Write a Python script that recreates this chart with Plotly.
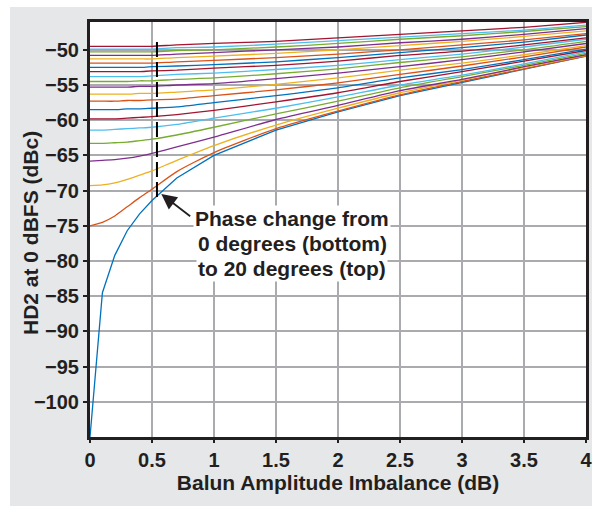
import plotly.graph_objects as go

# Balun amplitude imbalance (dB)
x_imbalance = [0, 0.1, 0.2, 0.3, 0.4, 0.5, 0.7, 1.0, 1.5, 2.0, 2.5, 3.0, 3.5, 4.0]

# HD2 at 0 dBFS (dBc), one series per phase imbalance (degrees)
phase_00 = [-105.0, -84.5, -79.2, -75.7, -73.3, -71.4, -68.2, -65.0, -61.4, -58.8, -56.5, -54.6, -52.7, -50.9]
phase_01 = [-75.0, -74.5, -73.6, -72.3, -71.0, -69.8, -67.3, -64.6, -61.2, -58.7, -56.4, -54.5, -52.7, -50.9]
phase_02 = [-69.3, -69.2, -68.9, -68.4, -67.8, -67.2, -65.7, -63.6, -60.7, -58.3, -56.1, -54.3, -52.5, -50.8]
phase_03 = [-65.8, -65.7, -65.6, -65.4, -65.1, -64.7, -63.8, -62.4, -59.9, -57.9, -55.8, -54.2, -52.4, -50.7]
phase_04 = [-63.3, -63.3, -63.2, -63.1, -62.9, -62.7, -62.1, -61.0, -59.1, -57.3, -55.4, -53.8, -52.2, -50.5]
phase_05 = [-61.4, -61.4, -61.3, -61.2, -61.1, -61.0, -60.6, -59.7, -58.3, -56.7, -55.0, -53.6, -52.0, -50.3]
phase_06 = [-59.8, -59.8, -59.8, -59.7, -59.6, -59.5, -59.2, -58.6, -57.4, -56.1, -54.5, -53.1, -51.6, -50.1]
phase_07 = [-58.5, -58.5, -58.5, -58.4, -58.4, -58.3, -58.1, -57.5, -56.5, -55.4, -54.0, -52.8, -51.4, -49.9]
phase_08 = [-57.3, -57.3, -57.3, -57.2, -57.2, -57.1, -57.0, -56.5, -55.7, -54.7, -53.5, -52.3, -51.0, -49.6]
phase_09 = [-56.3, -56.3, -56.3, -56.3, -56.2, -56.2, -56.0, -55.7, -54.9, -54.0, -52.9, -51.9, -50.7, -49.4]
phase_10 = [-55.3, -55.3, -55.3, -55.3, -55.2, -55.2, -55.0, -54.8, -54.1, -53.3, -52.4, -51.4, -50.3, -49.1]
phase_11 = [-54.5, -54.5, -54.5, -54.5, -54.4, -54.4, -54.2, -54.0, -53.4, -52.7, -51.8, -51.0, -50.0, -48.8]
phase_12 = [-53.8, -53.8, -53.8, -53.8, -53.8, -53.7, -53.5, -53.3, -52.8, -52.2, -51.4, -50.6, -49.6, -48.5]
phase_13 = [-53.1, -53.1, -53.1, -53.1, -53.1, -53.0, -52.9, -52.6, -52.2, -51.6, -50.8, -50.2, -49.3, -48.3]
phase_14 = [-52.5, -52.5, -52.5, -52.5, -52.5, -52.4, -52.3, -52.1, -51.7, -51.1, -50.4, -49.7, -48.9, -47.9]
phase_15 = [-51.9, -51.9, -51.9, -51.9, -51.9, -51.9, -51.7, -51.5, -51.1, -50.6, -50.0, -49.3, -48.6, -47.7]
phase_16 = [-51.3, -51.3, -51.3, -51.3, -51.3, -51.3, -51.1, -50.9, -50.5, -50.0, -49.4, -48.8, -48.1, -47.3]
phase_17 = [-50.8, -50.8, -50.8, -50.8, -50.8, -50.8, -50.6, -50.4, -50.0, -49.6, -49.0, -48.5, -47.8, -47.0]
phase_18 = [-50.3, -50.3, -50.3, -50.3, -50.3, -50.3, -50.1, -50.0, -49.6, -49.1, -48.5, -48.0, -47.4, -46.7]
phase_19 = [-49.9, -49.9, -49.9, -49.9, -49.9, -49.9, -49.7, -49.6, -49.2, -48.7, -48.2, -47.7, -47.2, -46.5]
phase_20 = [-49.5, -49.5, -49.5, -49.5, -49.5, -49.5, -49.3, -49.1, -48.8, -48.3, -47.8, -47.3, -46.8, -46.1]

series = [phase_00, phase_01, phase_02, phase_03, phase_04, phase_05, phase_06,
          phase_07, phase_08, phase_09, phase_10, phase_11, phase_12, phase_13,
          phase_14, phase_15, phase_16, phase_17, phase_18, phase_19, phase_20]

palette = ["#0072BD", "#D95319", "#EDB120", "#7E2F8E", "#77AC30", "#4DBEEE", "#A2142F"]

x_ticks = [0, 0.5, 1, 1.5, 2, 2.5, 3, 3.5, 4]
x_ticktext = ["0", "0.5", "1", "1.5", "2", "2.5", "3", "3.5", "4"]
y_ticks = [-100, -95, -90, -85, -80, -75, -70, -65, -60, -55, -50]
y_ticktext = ["\u2212100", "\u221295", "\u221290", "\u221285", "\u221280", "\u221275",
              "\u221270", "\u221265", "\u221260", "\u221255", "\u221250"]

marker_x = [0.54, 0.54]
marker_y = [-48.9, -71.6]

FONT = "Liberation Sans, Arial, sans-serif"
DARK = "#231f20"

fig = go.Figure()
for i, ys in enumerate(series):
    fig.add_trace(go.Scatter(
        x=x_imbalance, y=ys, mode="lines",
        line=dict(color=palette[i % 7], width=1.3,
                  shape="linear" if i == 0 else "spline", smoothing=0.6),
        showlegend=False, hoverinfo="skip"))

fig.add_trace(go.Scatter(x=marker_x, y=marker_y, mode="lines",
                         line=dict(color="black", width=2, dash="15px,5px"),
                         showlegend=False, hoverinfo="skip"))

W, H = 592, 506
L, R, T, B = 90, 6, 22, 69
pw, ph = W - L - R, H - T - B

fig.update_layout(
    width=W, height=H,
    margin=dict(l=L, r=R, t=T, b=B, autoexpand=False),
    paper_bgcolor="#e6e7e8",
    plot_bgcolor="white",
    font=dict(family=FONT, color=DARK, size=20, weight="bold"),
    xaxis=dict(range=[0, 4], tickvals=x_ticks, ticktext=x_ticktext,
               showgrid=True, gridcolor="#a9abae", gridwidth=1.5,
               showline=True, linecolor=DARK, linewidth=3, mirror=True,
               ticks="outside", ticklen=3, tickwidth=2, tickcolor=DARK,
               ticklabeloverflow="allow",
               tickfont=dict(size=20, family=FONT, color=DARK, weight="bold"),
               zeroline=False,
               title=dict(text="Balun Amplitude Imbalance (dB)",
                          font=dict(size=21, family=FONT, color=DARK, weight="bold"),
                          standoff=6)),
    yaxis=dict(range=[-105, -46.05], tickvals=y_ticks, ticktext=y_ticktext,
               showgrid=True, gridcolor="#a9abae", gridwidth=1.5,
               showline=True, linecolor=DARK, linewidth=3, mirror=True,
               ticks="outside", ticklen=4, tickwidth=2, tickcolor=DARK,
               tickfont=dict(size=20, family=FONT, color=DARK, weight="bold"),
               zeroline=False),
)

# y-axis title placed explicitly
fig.add_annotation(x=(31 - L) / pw, y=(H - B - 233) / ph, xref="paper", yref="paper",
                   text="HD2 at 0 dBFS (dBc)", textangle=-90, showarrow=False,
                   xanchor="center", yanchor="middle",
                   font=dict(size=21, family=FONT, color=DARK, weight="bold"))

# white strips at left and top edges of the picture
fig.add_shape(type="rect", xref="paper", yref="paper",
              x0=-L / pw - 0.01, x1=(10 - L) / pw, y0=-B / ph - 0.01, y1=1 + T / ph + 0.01,
              fillcolor="white", line=dict(width=0), layer="above")
fig.add_shape(type="rect", xref="paper", yref="paper",
              x0=-L / pw - 0.01, x1=1 + R / pw + 0.01, y0=(H - B - 7) / ph, y1=1 + T / ph + 0.01,
              fillcolor="white", line=dict(width=0), layer="above")

lines = ["Phase change from", "0 degrees (bottom)", "to 20 degrees (top)"]
ys_txt = [-73.9, -77.5, -81.1]
for txt, yy in zip(lines, ys_txt):
    fig.add_annotation(x=1.63, y=yy, xref="x", yref="y", text=txt, showarrow=False,
                       font=dict(size=21, family=FONT, color=DARK, weight="bold"),
                       bgcolor="white", borderpad=1)

fig.add_annotation(x=0.575, y=-70.5, ax=0.82, ay=-73.8, xref="x", yref="y",
                   axref="x", ayref="y", text="", showarrow=True,
                   arrowhead=2, arrowsize=1.7, arrowwidth=1.8, arrowcolor=DARK)

fig.write_html("out.html", config={"displayModeBar": False},
               post_script="document.body.style.margin='0';document.body.style.overflow='hidden';")
